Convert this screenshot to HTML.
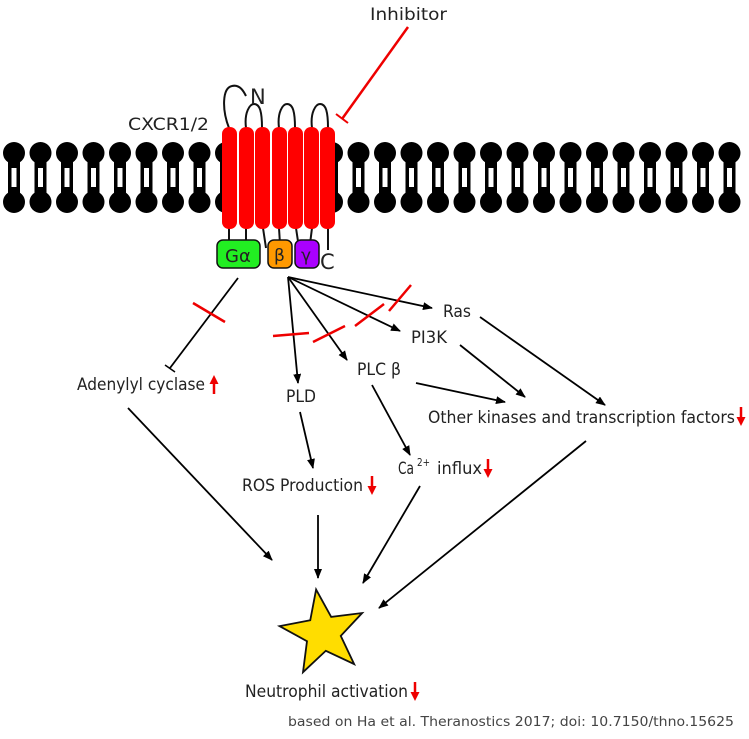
<!DOCTYPE html>
<html><head><meta charset="utf-8"><style>
html,body{margin:0;padding:0;background:#fff}
svg{display:block}
text{font-family:"DejaVu Sans","Liberation Sans",sans-serif;fill:#222}
</style></head><body>
<svg width="749" height="739" viewBox="0 0 749 739" xmlns="http://www.w3.org/2000/svg">
<defs>
<marker id="a" markerWidth="10" markerHeight="8" refX="9" refY="4" orient="auto" markerUnits="userSpaceOnUse"><path d="M0,0 L10,4 L0,8 z" fill="#000"/></marker>
<g id="lip">
<circle cx="0" cy="0" r="11" fill="#000"/>
<circle cx="0" cy="49" r="11" fill="#000"/>
<rect x="-6" y="8" width="12" height="33" fill="#000"/>
<rect x="-2.5" y="15" width="5" height="19" fill="#fff"/>
</g>
</defs>
<text x="370" y="20" font-size="17" textLength="77" lengthAdjust="spacingAndGlyphs">Inhibitor</text>
<line x1="408" y1="27" x2="342" y2="119" stroke="#e00" stroke-width="2.5"/>
<line x1="336" y1="114" x2="348" y2="123" stroke="#e00" stroke-width="2"/>
<g>
<use href="#lip" x="14" y="153"/><use href="#lip" x="40.5" y="153"/><use href="#lip" x="67" y="153"/><use href="#lip" x="93.5" y="153"/><use href="#lip" x="120" y="153"/><use href="#lip" x="146.5" y="153"/><use href="#lip" x="173" y="153"/><use href="#lip" x="199.5" y="153"/><use href="#lip" x="226" y="153"/><use href="#lip" x="332" y="153"/><use href="#lip" x="358.5" y="153"/><use href="#lip" x="385" y="153"/><use href="#lip" x="411.5" y="153"/><use href="#lip" x="438" y="153"/><use href="#lip" x="464.5" y="153"/><use href="#lip" x="491" y="153"/><use href="#lip" x="517.5" y="153"/><use href="#lip" x="544" y="153"/><use href="#lip" x="570.5" y="153"/><use href="#lip" x="597" y="153"/><use href="#lip" x="623.5" y="153"/><use href="#lip" x="650" y="153"/><use href="#lip" x="676.5" y="153"/><use href="#lip" x="703" y="153"/><use href="#lip" x="729.5" y="153"/>
</g>
<text x="128" y="130" font-size="17" textLength="81" lengthAdjust="spacingAndGlyphs">CXCR1/2</text>
<g fill="none" stroke="#111" stroke-width="2">
<path d="M229,128 C222,110 222,88 232,86 C240,84 244,92 246,96"/>
<path d="M246,128 C244,112 250,104 254,104 C260,104 262,112 262,128"/>
<path d="M279,128 C277,112 283,104 287,104 C293,104 295,112 295,128"/>
<path d="M312,128 C310,112 316,104 320,104 C326,104 328,112 328,128"/>
<path d="M229,228 L229,244 M246,228 L246,244 M263,228 L266,248 M279,228 L280,244 M296,228 L299,248 M312,228 L310,244 M328,228 L328,250"/>
</g>
<text x="250" y="104" font-size="21">N</text>
<g fill="#f00">
<rect x="222" y="127" width="15" height="102" rx="7"/><rect x="239" y="127" width="15" height="102" rx="7"/><rect x="255" y="127" width="15" height="102" rx="7"/><rect x="272" y="127" width="15" height="102" rx="7"/><rect x="288" y="127" width="15" height="102" rx="7"/><rect x="304" y="127" width="15" height="102" rx="7"/><rect x="320" y="127" width="15" height="102" rx="7"/>
</g>
<rect x="217" y="240" width="43" height="28" rx="6" fill="#2e2" stroke="#111" stroke-width="1.5"/>
<text x="225" y="262" font-size="18">Gα</text>
<rect x="268" y="240" width="24" height="28" rx="6" fill="#f90" stroke="#111" stroke-width="1.5"/>
<text x="274" y="261" font-size="17">β</text>
<rect x="295" y="240" width="24" height="28" rx="6" fill="#a0f" stroke="#111" stroke-width="1.5"/>
<text x="301" y="261" font-size="17">γ</text>
<text x="320" y="269" font-size="21">C</text>

<g stroke="#000" stroke-width="1.8" fill="none" marker-end="url(#a)">
<line x1="288" y1="277" x2="432" y2="308"/>
<line x1="288" y1="277" x2="400" y2="331"/>
<line x1="288" y1="277" x2="347" y2="360"/>
<line x1="288" y1="277" x2="298" y2="383"/>
<line x1="128" y1="408" x2="272" y2="560"/>
<line x1="318" y1="515" x2="318" y2="578"/>
<line x1="420" y1="486" x2="363" y2="583"/>
<line x1="586" y1="441" x2="379" y2="608"/>
<line x1="300" y1="412" x2="313" y2="468"/>
<line x1="372" y1="385" x2="410" y2="455"/>
<line x1="416" y1="383" x2="505" y2="402"/>
<line x1="460" y1="345" x2="525" y2="397"/>
<line x1="480" y1="317" x2="605" y2="405"/>
</g>
<line x1="238" y1="278" x2="170" y2="368" stroke="#000" stroke-width="1.8"/>
<line x1="165" y1="365" x2="175" y2="372" stroke="#000" stroke-width="1.5"/>
<g stroke="#e00" stroke-width="2.5">
<line x1="193" y1="303" x2="225" y2="322"/>
<line x1="273" y1="336" x2="309" y2="333"/>
<line x1="313" y1="342" x2="345" y2="326"/>
<line x1="355" y1="326" x2="384" y2="304"/>
<line x1="389" y1="311" x2="411" y2="285"/>
</g>

<g font-size="17">
<text x="77" y="390" textLength="128" lengthAdjust="spacingAndGlyphs">Adenylyl cyclase</text>
<text x="286" y="402" textLength="30" lengthAdjust="spacingAndGlyphs">PLD</text>
<text x="357" y="375" textLength="44" lengthAdjust="spacingAndGlyphs">PLC β</text>
<text x="411" y="343" textLength="36" lengthAdjust="spacingAndGlyphs">PI3K</text>
<text x="443" y="317" textLength="28" lengthAdjust="spacingAndGlyphs">Ras</text>
<text x="428" y="423" textLength="307" lengthAdjust="spacingAndGlyphs">Other kinases and transcription factors</text>
<text x="242" y="491" textLength="121" lengthAdjust="spacingAndGlyphs">ROS Production</text>
<text x="398" y="474" textLength="16" lengthAdjust="spacingAndGlyphs">Ca</text>
<text x="417" y="466" font-size="11" textLength="13" lengthAdjust="spacingAndGlyphs">2+</text>
<text x="437" y="474" textLength="45" lengthAdjust="spacingAndGlyphs">influx</text>
<text x="245" y="697" textLength="163" lengthAdjust="spacingAndGlyphs">Neutrophil activation</text>
</g>
<g fill="#e00" stroke="#e00">
<line x1="214" y1="382" x2="214" y2="394" stroke-width="2.5"/><path d="M209.5,384 L214,375 L218.5,384z" stroke="none"/>
<line x1="741" y1="407" x2="741" y2="419" stroke-width="2.5"/><path d="M736.5,417 L741,426 L745.5,417z" stroke="none"/>
<line x1="372" y1="476" x2="372" y2="488" stroke-width="2.5"/><path d="M367.5,486 L372,495 L376.5,486z" stroke="none"/>
<line x1="488" y1="459" x2="488" y2="471" stroke-width="2.5"/><path d="M483.5,469 L488,478 L492.5,469z" stroke="none"/>
<line x1="415" y1="682" x2="415" y2="694" stroke-width="2.5"/><path d="M410.5,692 L415,701 L419.5,692z" stroke="none"/>
</g>
<polygon transform="translate(323,633) rotate(-9)" points="0,-44 10.6,-14.6 41.8,-13.6 17.1,5.6 25.9,35.6 0,18 -25.9,35.6 -17.1,5.6 -41.8,-13.6 -10.6,-14.6" fill="#fd0" stroke="#111" stroke-width="1.8"/>
<text x="288" y="726" font-size="13" textLength="446" lengthAdjust="spacingAndGlyphs" style="fill:#444">based on Ha et al. Theranostics 2017; doi: 10.7150/thno.15625</text>
</svg>
</body></html>
